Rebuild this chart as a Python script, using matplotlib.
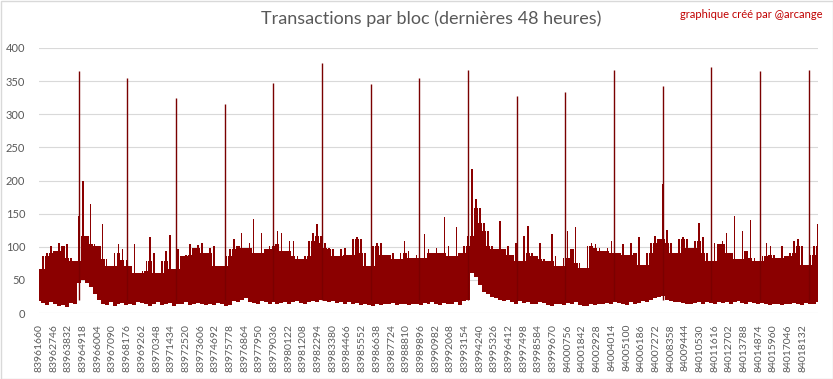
import matplotlib
matplotlib.use("Agg")
import matplotlib.pyplot as plt
from matplotlib.patches import Rectangle
import numpy as np

# Block range shown (48 hours, one block every 3 s)
first_block = 83961660
n_blocks = 57600
label_step = 1086
n_labels = 53

# Transactions per block, read off the chart as column maxima / minima
# (one value per ~290 blocks, left to right)
tx_max = [
    66, 86, 91, 101, 93, 106, 101, 104, 83, 78, 146, 200, 116, 164, 104, 101, 134, 81, 71, 91, 104, 96, 80,
    71, 104, 61, 63, 78, 114, 91, 61, 78, 93, 117, 66, 96, 86, 88, 104, 98, 102, 106, 91, 98, 101, 71, 71,
    86, 96, 111, 101, 121, 98, 106, 142, 91, 121, 96, 101, 104, 124, 121, 93, 109, 109, 86, 81, 86, 109, 121, 134,
    116, 106, 98, 96, 86, 96, 98, 88, 111, 114, 111, 91, 71, 101, 106, 106, 88, 88, 91, 81, 91, 109, 93, 83,
    88, 83, 119, 96, 91, 98, 91, 145, 101, 86, 130, 91, 101, 116, 217, 172, 159, 136, 124, 101, 96, 139, 96, 101,
    88, 106, 78, 116, 132, 91, 86, 106, 81, 78, 119, 86, 71, 83, 124, 96, 130, 76, 68, 101, 106, 104, 98, 93,
    98, 109, 91, 91, 104, 88, 106, 91, 114, 73, 91, 106, 116, 111, 194, 126, 106, 91, 111, 114, 111, 98, 109, 136,
    114, 91, 78, 106, 104, 109, 121, 91, 146, 81, 124, 93, 141, 83, 78, 86, 106, 101, 88, 83, 101, 86, 91, 109,
    111, 101, 73, 88, 101, 134,
]
tx_min = [
    18, 15, 12, 16, 14, 10, 12, 9, 15, 14, 45, 50, 46, 40, 28, 20, 14, 12, 16, 10, 13, 15, 12,
    14, 12, 16, 15, 14, 10, 13, 16, 12, 14, 15, 11, 14, 13, 16, 12, 14, 15, 13, 12, 14, 12, 15, 13,
    10, 12, 18, 16, 20, 22, 16, 15, 14, 18, 16, 14, 16, 13, 15, 17, 14, 16, 18, 15, 14, 16, 18, 17,
    20, 18, 16, 18, 15, 17, 14, 16, 13, 15, 12, 14, 12, 10, 13, 12, 14, 13, 15, 12, 14, 13, 12, 14,
    14, 12, 15, 13, 16, 14, 12, 15, 14, 13, 16, 12, 18, 20, 60, 55, 42, 32, 28, 24, 22, 20, 18, 20,
    16, 14, 18, 15, 17, 14, 13, 16, 15, 12, 10, 14, 13, 12, 15, 14, 16, 12, 10, 11, 13, 12, 14, 13,
    15, 14, 16, 15, 14, 12, 16, 14, 15, 18, 17, 20, 22, 24, 26, 20, 18, 16, 17, 15, 14, 13, 15, 16,
    14, 16, 15, 14, 16, 15, 17, 14, 16, 18, 15, 14, 16, 15, 13, 15, 14, 12, 14, 13, 12, 14, 13, 15,
    14, 12, 15, 13, 14, 16,
]

# Isolated very large blocks (every ~3600 blocks)
spike_blocks = [83964616, 83968163, 83971784, 83975405, 83978953, 83982574, 83986195, 83989742,
                83993363, 83996984, 84000531, 84004153, 84007774, 84011321, 84014942, 84018563]
spike_values = [365, 355, 324, 315, 347, 377, 346, 355, 367, 327, 333, 367, 343, 371, 365, 367]

last_block = first_block + n_blocks - 1
n = len(tx_max)
x = np.linspace(first_block, last_block, n)
step = (last_block - first_block) / (n - 1)
hi = np.array(tx_max, dtype=float)
lo = np.array(tx_min, dtype=float)
# dense body: lowest of the neighbouring column maxima, peaks rise above it
padded = np.pad(hi, 1, mode="edge")
body = np.minimum.reduce([padded[:-2], padded[1:-1], padded[2:]])
tick_blocks = first_block + label_step * np.arange(n_labels)

red = "#8B0000"
grey = "#595959"
font = "Lato"

fig = plt.figure(figsize=(8.33, 3.79), dpi=100)
ax = fig.add_axes([39 / 833, 66 / 379, 779 / 833, 265 / 379])

ax.fill_between(x, lo, body, step="mid", color=red, linewidth=0)
ax.bar(x, hi - body, bottom=body, width=step * 0.4, color=red, linewidth=0)
ax.vlines(spike_blocks, 20, spike_values, color="#7A0000", linewidth=1.0)

ax.set_xlim(first_block - 0.5, last_block + 0.5)
ax.set_ylim(0, 400)
ax.set_yticks(np.arange(0, 401, 50))
ax.set_xticks(tick_blocks)
ax.set_xticklabels([str(b) for b in tick_blocks], rotation=90, fontsize=7.5,
                   color=grey, family=font)
for lab in ax.get_yticklabels():
    lab.set_fontsize(8)
    lab.set_color(grey)
    lab.set_family(font)
ax.tick_params(axis="both", length=0)
ax.tick_params(axis="y", pad=10)
ax.tick_params(axis="x", pad=8)
ax.grid(axis="y", color="#D9D9D9", linewidth=0.8)
ax.set_axisbelow(True)
for s in ax.spines.values():
    s.set_visible(False)

fig.text(431 / 833, 1 - 19 / 379, "Transactions par bloc (dernières 48 heures)",
         ha="center", va="center", fontsize=13, color=grey, family=font)
fig.text(822 / 833, 1 - 15 / 379, "graphique créé par @arcange",
         ha="right", va="center", fontsize=8, color="#C00000", family=font)

# chart border
fig.patches.append(Rectangle((0.5 / 833, 0.5 / 379), 832 / 833, 378 / 379, transform=fig.transFigure,
                             fill=False, edgecolor="#D9D9D9", linewidth=1))

fig.savefig("out.png", dpi=100)
